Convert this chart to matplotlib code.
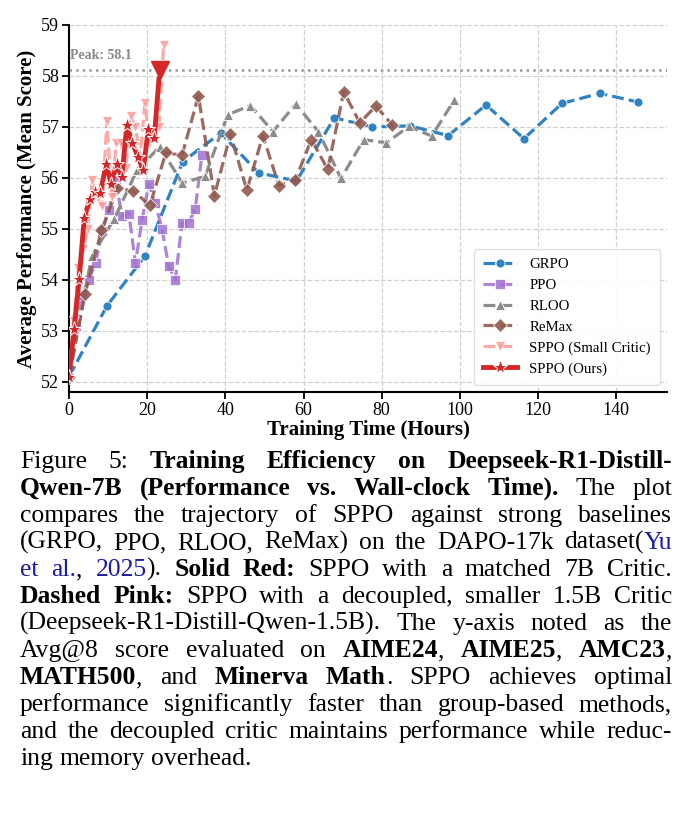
import matplotlib
matplotlib.use("Agg")
import matplotlib.pyplot as plt

SERIF = "Liberation Serif"
plt.rcParams["font.family"] = [SERIF, "DejaVu Serif"]

# --- data (hours, mean score) ---
grpo_x = [0, 9.7, 19.4, 29.1, 38.8, 48.5, 58.2, 67.9, 77.6, 87.3, 97.0, 106.7, 116.4, 126.1, 135.8, 145.5]
grpo_y = [52.1, 53.49, 54.46, 56.32, 56.88, 56.10, 55.94, 57.18, 57.00, 57.02, 56.83, 57.43, 56.77, 57.46, 57.66, 57.49]

ppo_x = [0, 1.7, 3.4, 5.1, 6.8, 8.5, 10.2, 11.9, 13.6, 15.3, 17.0, 18.7, 20.4, 22.1, 23.8, 25.5, 27.2, 28.9, 30.6, 32.3, 34.0]
ppo_y = [52.1, 53.1, 53.7, 54.0, 54.33, 54.95, 55.37, 55.95, 55.25, 55.3, 54.33, 55.18, 55.88, 55.5, 54.99, 54.27, 54.0, 55.11, 55.12, 55.39, 56.45]

rloo_x = [0, 5.8, 11.6, 17.4, 23.2, 29.0, 34.8, 40.6, 46.4, 52.2, 58.0, 63.8, 69.6, 75.4, 81.2, 87.0, 92.8, 98.6]
rloo_y = [52.1, 54.46, 55.2, 56.15, 56.61, 55.90, 56.03, 57.24, 57.42, 56.91, 57.45, 56.91, 55.99, 56.75, 56.69, 57.01, 56.82, 57.53]

remax_x = [0, 4.1, 8.3, 12.4, 16.5, 20.7, 24.8, 28.9, 33.1, 37.2, 41.3, 45.5, 49.6, 53.7, 57.9, 62.0, 66.2, 70.3, 74.4, 78.5, 82.7]
remax_y = [52.1, 53.73, 54.97, 55.80, 55.74, 55.46, 56.50, 56.44, 57.61, 55.65, 56.86, 55.76, 56.83, 55.85, 55.96, 56.75, 56.17, 57.69, 57.08, 57.41, 57.04]

small_x = [0, 1.2, 2.4, 3.6, 4.8, 6.0, 7.3, 8.5, 9.7, 10.9, 12.1, 13.3, 14.5, 15.8, 17.0, 18.2, 19.4, 20.6, 21.8, 23.0, 24.2]
small_y = [52.1, 53.2, 54.23, 54.6, 55.0, 55.96, 55.6, 55.45, 57.12, 55.63, 56.68, 56.68, 56.2, 57.22, 57.0, 56.4, 57.46, 56.7, 56.9, 57.0, 58.6]

ours_x = [0, 1.3, 2.6, 3.9, 5.3, 6.6, 8.0, 9.5, 10.8, 12.2, 13.5, 14.8, 16.2, 17.6, 19.0, 20.3, 21.8, 23.2]
ours_y = [52.1, 53.03, 54.02, 55.21, 55.58, 55.73, 55.70, 56.27, 55.88, 56.27, 56.01, 57.03, 56.69, 56.42, 56.16, 56.96, 56.78, 58.12]

x_ticks = [0, 20, 40, 60, 80, 100, 120, 140]
y_ticks = [52, 53, 54, 55, 56, 57, 58, 59]

W, H = 692, 818
fig = plt.figure(figsize=(W / 100, H / 100), dpi=100)
ax = fig.add_axes([69 / W, 1 - 392 / H, (667 - 69) / W, (392 - 25) / H])

common = dict(markeredgecolor="white", markeredgewidth=0.6)
ax.plot(grpo_x, grpo_y, "--", color="#3083c1", lw=2.3, marker="o", ms=6.5, label="GRPO", zorder=3, **common)
ax.plot(ppo_x, ppo_y, "--", color="#a070d0", lw=2.3, marker="s", ms=6.5, alpha=0.85, label="PPO", zorder=3, **common)
ax.plot(rloo_x, rloo_y, "--", color="#8c8c8c", lw=2.3, marker="^", ms=6.5, label="RLOO", zorder=3, **common)
ax.plot(remax_x, remax_y, "--", color="#8f5a4f", lw=2.3, marker="D", ms=7, alpha=0.9, label="ReMax", zorder=3, **common)
ax.plot(small_x, small_y, "--", color="#ff9a98", lw=2.3, marker="v", ms=6.5, alpha=0.85,
        label="SPPO (Small Critic)", zorder=4, **common)
ax.plot(ours_x, ours_y, "-", color="#d62728", lw=3.5, marker="*", ms=11, label="SPPO (Ours)", zorder=5,
        markeredgecolor="white", markeredgewidth=0.7)

peak = max(ours_y)
ax.axhline(peak, color="#999999", ls=":", lw=1.8, zorder=2)
ax.plot([ours_x[ours_y.index(peak)]], [peak], marker="v", ms=13, color="#d62728", zorder=6, ls="none")
ax.text(0.3, peak + 0.16, f"Peak: {peak:.1f}", color="#888888", fontsize=10, fontweight="bold", va="bottom")

ax.set_xlim(0, 153)
ax.set_ylim(51.8, 59)
ax.set_xticks(x_ticks)
ax.set_yticks(y_ticks)
ax.grid(True, ls="--", color="#d0d0d0", lw=0.9)
ax.set_axisbelow(True)
for s in ["top", "right"]:
    ax.spines[s].set_visible(False)
for s in ["left", "bottom"]:
    ax.spines[s].set_linewidth(1.5)
ax.tick_params(labelsize=13, width=1.3, length=5, pad=2)
ax.set_xlabel("Training Time (Hours)", fontsize=15, fontweight="bold", labelpad=1)
ax.set_ylabel("Average Performance (Mean Score)", fontsize=15, fontweight="bold", labelpad=3)

leg = ax.legend(loc="lower right", fontsize=10.7, handlelength=2.3, frameon=True, fancybox=True,
                edgecolor="#dddddd", framealpha=0.9, borderpad=0.6, labelspacing=0.5)

# --- justified caption below the chart ---
LEFT, RIGHT = 20, 672
BASE0, STEP = 468, 27.0
STYLES = {"r": ("normal", "black"), "b": ("bold", "black"), "c": ("normal", "#1a1aa6")}

caption = [
    [[("Figure", "r")], [("5:", "r")], [("Training", "b")], [("Efficiency", "b")], [("on", "b")],
     [("Deepseek-R1-Distill-", "b")]],
    [[(w, "b")] for w in "Qwen-7B (Performance vs. Wall-clock Time).".split()] + [[("The", "r")], [("plot", "r")]],
    [[(w, "r")] for w in "compares the trajectory of SPPO against strong baselines".split()],
    [[(w, "r")] for w in "(GRPO, PPO, RLOO, ReMax) on the DAPO-17k".split()] + [[("dataset(", "r"), ("Yu", "c")]],
    [[("et", "c")], [("al.", "c"), (",", "r")], [("2025", "c"), (").", "r")], [("Solid", "b")], [("Red:", "b")]]
    + [[(w, "r")] for w in "SPPO with a matched 7B Critic.".split()],
    [[("Dashed", "b")], [("Pink:", "b")]] + [[(w, "r")] for w in "SPPO with a decoupled, smaller 1.5B Critic".split()],
    [[(w, "r")] for w in "(Deepseek-R1-Distill-Qwen-1.5B). The y-axis noted as the".split()],
    [[(w, "r")] for w in "Avg@8 score evaluated on".split()]
    + [[("AIME24", "b"), (",", "r")], [("AIME25", "b"), (",", "r")], [("AMC23", "b"), (",", "r")]],
    [[("MATH500", "b"), (",", "r")], [("and", "r")], [("Minerva", "b")], [("Math", "b"), (".", "r")]]
    + [[(w, "r")] for w in "SPPO achieves optimal".split()],
    [[(w, "r")] for w in "performance significantly faster than group-based methods,".split()],
    [[(w, "r")] for w in "and the decoupled critic maintains performance while reduc-".split()],
    [[(w, "r")] for w in "ing memory overhead.".split()],
]

renderer = fig.canvas.get_renderer()


def piece_width(text, style, size):
    weight, _ = STYLES[style]
    t = fig.text(0, 0, text, fontsize=size, fontweight=weight)
    w = t.get_window_extent(renderer).width
    t.remove()
    return w


def space_width(size):
    return piece_width("a a", "r", size) - 2 * piece_width("a", "r", size)


# pick the caption size so the longest line roughly fills the text block
probe = 15.0
natural = []
for line in caption[:-1]:
    words = sum(sum(piece_width(t, s, probe) for t, s in word) for word in line)
    natural.append(words + 0.85 * space_width(probe) * (len(line) - 1))
CAP_FS = 0.95 * probe * (RIGHT - LEFT) / max(natural)

sp = space_width(CAP_FS)
for i, line in enumerate(caption):
    widths = [sum(piece_width(t, s, CAP_FS) for t, s in word) for word in line]
    last = i == len(caption) - 1
    gap = sp if last else (RIGHT - LEFT - sum(widths)) / (len(line) - 1)
    x = LEFT
    y = 1 - (BASE0 + i * STEP) / H
    for word, ww in zip(line, widths):
        px = x
        for t, s in word:
            weight, color = STYLES[s]
            fig.text(px / W, y, t, fontsize=CAP_FS, fontweight=weight, color=color, va="baseline")
            px += piece_width(t, s, CAP_FS)
        x += ww + gap

fig.savefig("out.png", dpi=100)
